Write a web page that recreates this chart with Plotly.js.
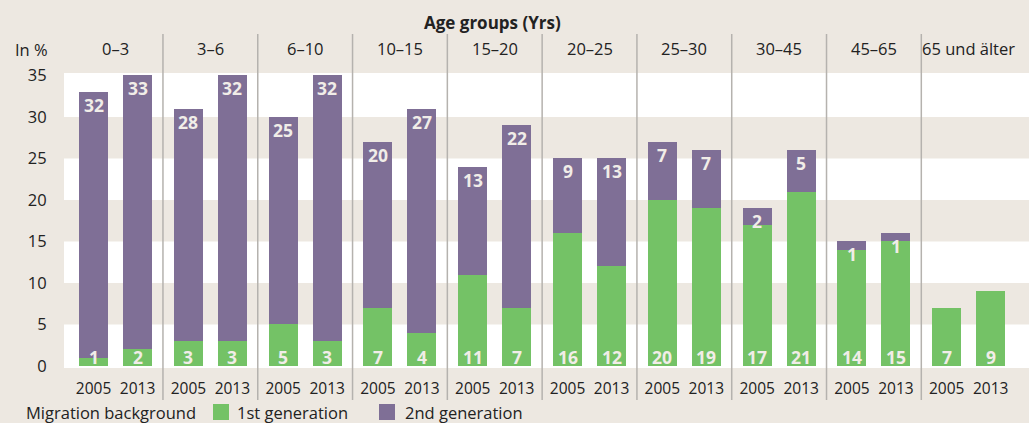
<!DOCTYPE html>
<html><head><meta charset="utf-8">
<script src="https://cdn.plot.ly/plotly-3.0.1.min.js"></script>
<style>html,body{margin:0;padding:0;background:#ede8e1;}#chart{width:1029px;height:423px;}</style>
</head><body><div id="chart"></div>
<script>
var groups = ["0–3","3–6","6–10","10–15","15–20","20–25","25–30","30–45","45–65","65 und älter"];
var years = ["2005","2013"];
var firstGen2005 = [1,3,5,7,11,16,20,17,14,7];
var firstGen2013 = [2,3,3,4,7,12,19,21,15,9];
var secondGen2005 = [32,28,25,20,13,9,7,2,1,0];
var secondGen2013 = [33,32,32,27,22,13,7,5,1,0];
var yTicks = [0,5,10,15,20,25,30,35];
var seriesNames = ["1st generation","2nd generation"];
var legendTitle = "Migration background";
var chartTitle = "Age groups (Yrs)";
var unitLabel = "In %";

var GREEN = "#74c266", PURPLE = "#7f6f96", BG = "#ede8e1", LABEL = "#f1ede8", INK = "#222222";
var FONT = "Open Sans, Noto Sans, sans-serif";
var OFF = 0.232, W = 0.306;
var PT = 73, PB = 368, PL = 64, PR = 1029;
function py(p){ return (PB - p) / (PB - PT); }
function px(p){ return (p - PL) / (PR - PL); }

var xs = [], ticktext = [], g1 = [], g2 = [];
groups.forEach(function(g, i){
  xs.push(i - OFF); ticktext.push(years[0]); g1.push(firstGen2005[i]); g2.push(secondGen2005[i]);
  xs.push(i + OFF); ticktext.push(years[1]); g1.push(firstGen2013[i]); g2.push(secondGen2013[i]);
});

var traces = [
  {type:"bar", name:seriesNames[0], x:xs, y:g1, width:W, marker:{color:GREEN}, hoverinfo:"y", showlegend:false},
  {type:"bar", name:seriesNames[1], x:xs, y:g2, width:W, marker:{color:PURPLE}, hoverinfo:"y", showlegend:false}
];

var shapes = [];
[[-0.25,5],[10,15],[20,25],[30,35.3]].forEach(function(b){
  shapes.push({type:"rect", xref:"paper", yref:"y", x0:0, x1:1, y0:b[0], y1:b[1],
    fillcolor:"#ffffff", line:{width:0}, layer:"below"});
});
for (var k = 0; k < groups.length - 1; k++) {
  shapes.push({type:"line", xref:"x", yref:"paper", x0:k+0.5, x1:k+0.5, y0:py(400), y1:py(34),
    line:{color:"#b5b2ae", width:1.5}, layer:"above"});
}
// legend swatches
shapes.push({type:"rect", xref:"paper", yref:"paper", x0:px(213), x1:px(229), y0:py(420), y1:py(404),
  fillcolor:GREEN, line:{width:0}});
shapes.push({type:"rect", xref:"paper", yref:"paper", x0:px(379), x1:px(395), y0:py(420), y1:py(404),
  fillcolor:PURPLE, line:{width:0}});

var labelFont = {family:FONT, size:17.5, color:LABEL, weight:"bold"};
var annotations = [];
xs.forEach(function(x, j){
  if (g1[j] > 0) annotations.push({x:x, y:0, xref:"x", yref:"y", text:String(g1[j]), showarrow:false,
    xanchor:"center", yanchor:"bottom", yshift:-5, font:labelFont});
  if (g2[j] > 0) annotations.push({x:x, y:g1[j]+g2[j], xref:"x", yref:"y", text:String(g2[j]), showarrow:false,
    xanchor:"center", yanchor:"top", yshift:1, font:labelFont});
});
groups.forEach(function(g, i){
  annotations.push({x:i, xref:"x", y:py(49), yref:"paper", text:g, showarrow:false,
    xanchor:"center", yanchor:"middle", font:{family:FONT, size:16.5, color:INK}});
});
annotations.push({x:3.98, xref:"x", y:py(22), yref:"paper", text:"<b>"+chartTitle+"</b>", showarrow:false,
  xanchor:"center", yanchor:"middle", font:{family:FONT, size:17, color:INK}});
annotations.push({x:px(50), xref:"paper", y:py(50), yref:"paper", text:unitLabel, showarrow:false,
  xanchor:"right", yanchor:"middle", font:{family:FONT, size:16.5, color:INK}});
// legend texts
annotations.push({x:px(24), xref:"paper", y:py(412), yref:"paper", text:legendTitle, showarrow:false,
  xanchor:"left", yanchor:"middle", font:{family:FONT, size:16.5, color:INK}});
annotations.push({x:px(235), xref:"paper", y:py(412), yref:"paper", text:seriesNames[0], showarrow:false,
  xanchor:"left", yanchor:"middle", font:{family:FONT, size:16.5, color:INK}});
annotations.push({x:px(403), xref:"paper", y:py(412), yref:"paper", text:seriesNames[1], showarrow:false,
  xanchor:"left", yanchor:"middle", font:{family:FONT, size:16.5, color:INK}});

var layout = {
  width:1029, height:423,
  margin:{l:PL, r:1029-PR, t:PT, b:423-PB, pad:0},
  paper_bgcolor:BG, plot_bgcolor:BG,
  barmode:"stack",
  font:{family:FONT, size:15, color:INK},
  showlegend:false,
  xaxis:{range:[-0.544, 9.636], tickmode:"array", tickvals:xs, ticktext:ticktext, automargin:false,
    showgrid:false, zeroline:false, showline:false, ticks:"outside", ticklen:6, tickcolor:"rgba(0,0,0,0)",
    tickfont:{family:FONT, size:15.5, color:INK}, fixedrange:true},
  yaxis:{range:[-0.25, 35.3], tickmode:"array", tickvals:yTicks, showgrid:false, zeroline:false, showline:false,
    automargin:false, ticks:"outside", ticklen:13, tickcolor:"rgba(0,0,0,0)",
    tickfont:{family:FONT, size:16.5, color:INK}, fixedrange:true},
  shapes:shapes, annotations:annotations
};
Plotly.newPlot("chart", traces, layout, {displayModeBar:false, staticPlot:true});
</script></body></html>
